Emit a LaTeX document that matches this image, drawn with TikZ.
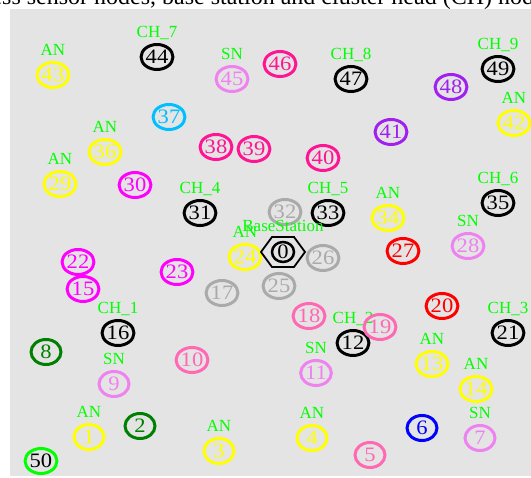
\documentclass[tikz,border=0pt]{standalone}
\usepackage{fontspec}
\setmainfont{Liberation Serif}
\newfontfamily\numfont[FakeStretch=1.1]{Liberation Serif}
\usetikzlibrary{shapes.geometric}
\definecolor{bg}{RGB}{228,228,228}
\definecolor{labgreen}{RGB}{0,255,0}
\definecolor{nyellow}{RGB}{255,255,0}
\definecolor{nviolet}{RGB}{238,130,238}
\definecolor{ndeeppink}{RGB}{255,20,147}
\definecolor{npurple}{RGB}{160,32,240}
\definecolor{nsky}{RGB}{0,191,255}
\definecolor{nmagenta}{RGB}{255,0,255}
\definecolor{ngrey}{RGB}{170,170,170}
\definecolor{nred}{RGB}{255,0,0}
\definecolor{nhotpink}{RGB}{255,105,180}
\definecolor{ngreen}{RGB}{0,128,0}
\definecolor{nblue}{RGB}{0,0,255}
\definecolor{nlime}{RGB}{0,255,0}
\definecolor{nblack}{RGB}{0,0,0}
\begin{document}
\begin{tikzpicture}[x=1pt,y=-1pt,
  nd/.style={ellipse, draw=#1, text=#1, line width=3pt, minimum width=30pt,
    minimum height=25pt, inner sep=0pt, font=\numfont\fontsize{20.5}{20.5}\selectfont},
  lab/.style={text=labgreen, anchor=base, inner sep=0pt,
    font=\fontsize{17}{17}\selectfont},
  caption/.style={anchor=base west, inner sep=0pt, text=black,
    font=\fontsize{24}{24}\selectfont}]
\useasboundingbox (0,0) rectangle (531,478);
\clip (0,0) rectangle (531,478);
\fill[bg] (10,9) rectangle (531,476);
\node[caption] (cap) at (-58,4.5) {wireless sensor nodes, base station and cluster head (CH) nodes};
% sensor nodes
\foreach \n/\x/\y/\c in {
  1/89/437/nyellow, 2/140/426/ngreen, 3/219/451/nyellow, 4/312/438/nyellow,
  5/370/455/nhotpink, 6/422/428/nblue, 7/480/438/nviolet, 8/46/352/ngreen,
  9/114/384/nviolet, 10/192/360/nhotpink, 11/316/373/nviolet, 12/353/343/nblack,
  13/432/364/nyellow, 14/476/389/nyellow, 15/83/289/nmagenta, 16/118/333/nblack,
  17/222/293/ngrey, 18/309/316/nhotpink, 20/442/306/nred,
  21/508/333/nblack, 22/78/262/nmagenta, 23/177/272/nmagenta, 24/245/257/nyellow,
  25/279/286/ngrey, 26/323/258/ngrey, 27/403/251/nred, 28/468/246/nviolet,
  29/60/184/nyellow, 30/135/185/nmagenta, 31/200/213/nblack, 32/285/212/ngrey,
  33/328/213/nblack, 34/388/218/nyellow, 35/498/203/nblack, 36/105/152/nyellow,
  37/169/117/nsky, 38/216/147/ndeeppink, 39/254/149/ndeeppink, 40/323/158/ndeeppink,
  41/391/132/npurple, 42/514/123/nyellow, 43/53/75/nyellow, 44/157/57/nblack,
  45/232/79/nviolet, 46/280/64/ndeeppink, 47/351/79/nblack, 48/451/87/npurple,
  49/498/69/nblack}
  \node[nd=\c] (n\n) at (\x,\y) {\n};
\node[nd=nlime, text=black] (n50) at (41,461) {50};
% base station
\node[nd=nblack, line width=2.5pt, minimum width=22pt, minimum height=20pt] (n0) at (283,252) {0};
\draw[line width=1.8pt, line join=miter] ([xshift=-22pt]n0.center) -- ++(11,-15) -- ++(22,0) -- ++(11,15)
  -- ++(-11,15) -- ++(-22,0) -- cycle;
% labels
\foreach \n/\t in {1/AN, 3/AN, 4/AN, 7/SN, 9/SN, 11/SN, 12/CH\_2, 13/AN, 14/AN,
  16/CH\_1, 21/CH\_3, 24/AN, 28/SN, 29/AN, 31/CH\_4, 33/CH\_5, 34/AN, 35/CH\_6,
  36/AN, 42/AN, 43/AN, 44/CH\_7, 45/SN, 47/CH\_8, 49/CH\_9}
  \node[lab] (l\n) at ([yshift=19pt]n\n.center) {\t};
\node[lab] (l0) at (283,232) {BaseStation};
\node[nd=nhotpink] (n19) at (380,327) {19};
\end{tikzpicture}
\end{document}
